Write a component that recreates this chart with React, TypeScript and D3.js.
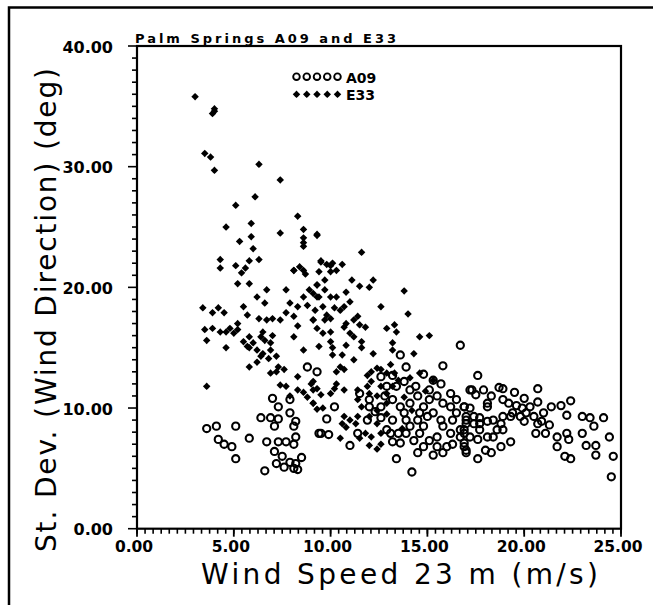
import * as d3 from "d3";

// Palm Springs, scatter of wind direction standard deviation vs wind speed
const title = "Palm Springs A09 and E33";
const xTitle = "Wind  Speed  23  m  (m/s)";
const yTitle = "St.  Dev.  (Wind  Direction)  (deg)";
const xTicks = [0, 5, 10, 15, 20, 25];
const yTicks = [0, 10, 20, 30, 40];
const seriesNames = ["A09", "E33"];

// E33 points: [wind speed, st. dev.]
const e33 = [
  [3.0, 35.8], [4.0, 34.8], [3.9, 34.4], [4.0, 34.6], [3.5, 31.1], [3.8, 30.8], [4.0, 29.7],
  [6.3, 30.2], [7.4, 28.9], [6.1, 27.5], [5.1, 26.8], [8.3, 25.9], [4.6, 25.0], [5.9, 25.3],
  [7.4, 24.5], [8.6, 24.8], [8.6, 24.1], [8.6, 23.7], [8.6, 23.4], [9.3, 24.4], [5.3, 23.8],
  [5.9, 24.2], [6.0, 23.2], [11.6, 22.9], [4.3, 22.3], [4.3, 21.6], [5.1, 21.8],
  [5.6, 21.6], [5.8, 22.2], [6.3, 22.3], [8.1, 21.4], [8.4, 21.7], [8.7, 21.1], [9.5, 22.2],
  [10.0, 21.8],
  [3.6, 11.8], [3.4, 18.3], [3.9, 17.9], [4.2, 18.3], [4.5, 17.9], [3.5, 16.5], [3.6, 15.6],
  [3.9, 16.6], [4.3, 16.3], [4.6, 16.3], [4.8, 16.6], [5.2, 17.0], [5.2, 16.5], [5.0, 16.2],
  [4.6, 15.0], [5.5, 18.4], [5.7, 17.7], [5.4, 21.2], [5.2, 20.3], [5.8, 20.3], [6.2, 19.2],
  [6.7, 19.8], [6.6, 18.7], [6.3, 17.4], [6.7, 17.3], [6.5, 16.3], [5.8, 15.9], [5.5, 15.5],
  [5.7, 15.1], [5.8, 15.0], [6.0, 15.4], [6.2, 14.8], [6.4, 14.3], [6.5, 14.5], [6.2, 13.8],
  [5.8, 13.4], [6.9, 14.8], [7.2, 14.3], [7.3, 13.4], [6.9, 15.4], [7.0, 17.4], [7.4, 17.3],
  [7.7, 17.9], [8.1, 17.6], [8.1, 15.9], [8.6, 14.8], [8.3, 16.8], [7.7, 19.8], [7.9, 18.7],
  [8.3, 18.4], [8.6, 19.2], [8.8, 18.5], [8.9, 19.8], [9.1, 17.3], [8.1, 21.4], [8.6, 21.4],
  [9.3, 20.2], [9.3, 19.2], [6.9, 12.9], [7.2, 13.0], [7.6, 13.2], [7.4, 11.9], [7.7, 11.8],
  [8.3, 12.6], [8.3, 11.5], [8.6, 11.3], [8.8, 10.9], [9.1, 11.5], [9.1, 10.4], [9.3, 9.9],
  [9.0, 12.0], [7.9, 11.0], [6.6, 15.6], [6.8, 14.1], [7.0, 16.0], [6.4, 15.9],
  [9.3, 24.3], [9.5, 22.1], [9.8, 21.9], [10.1, 22.0], [10.6, 21.9], [9.4, 21.3], [10.0, 21.3],
  [10.3, 21.4], [9.7, 20.6], [11.1, 20.6], [11.5, 20.1], [12.2, 20.6], [12.0, 20.0], [13.8, 19.7],
  [9.3, 20.2], [9.1, 19.5], [9.4, 19.2], [9.7, 19.8], [10.0, 19.2], [10.3, 19.2], [10.8, 19.6],
  [11.0, 18.8], [10.7, 18.4], [10.5, 18.1], [10.2, 18.3], [9.6, 18.4], [9.2, 18.1], [12.6, 18.4],
  [14.0, 17.8], [9.8, 17.7], [10.0, 17.4], [9.7, 17.3], [9.1, 17.3], [11.4, 17.6], [11.2, 17.3],
  [10.8, 17.0], [11.5, 16.9], [10.7, 16.7], [11.8, 16.7], [12.9, 16.6], [13.3, 16.9], [13.4, 16.3],
  [14.6, 15.9], [15.1, 16.0], [9.3, 16.6], [9.6, 16.2], [10.0, 16.3], [11.0, 16.2], [11.2, 15.9],
  [11.6, 15.5], [10.0, 15.5], [9.4, 15.1], [10.1, 15.0], [10.8, 15.2], [11.6, 15.0], [12.2, 14.5],
  [13.2, 15.4], [13.2, 14.8], [14.3, 14.5], [10.1, 14.4], [10.6, 14.4], [11.2, 14.0], [10.5, 13.4],
  [10.7, 13.2], [10.3, 13.0], [11.9, 12.7], [12.1, 13.0], [12.4, 13.3], [12.6, 13.2], [13.1, 13.6],
  [12.9, 12.9], [12.1, 12.2], [11.9, 11.8], [11.4, 11.5], [12.0, 11.2], [12.4, 11.0], [10.3, 12.0],
  [10.2, 11.6], [10.7, 11.5], [10.0, 11.2], [9.1, 12.2], [9.3, 11.6], [9.5, 11.1], [9.1, 10.4],
  [9.6, 10.0], [11.4, 10.7], [11.6, 10.1], [11.4, 9.3], [11.3, 8.7], [10.7, 9.3], [10.6, 8.7],
  [10.8, 8.4], [11.0, 9.0], [10.5, 7.5], [11.5, 7.5], [11.8, 7.9], [12.1, 7.6], [12.4, 6.6],
  [12.6, 7.0], [12.0, 6.9], [12.6, 7.9], [12.4, 8.7], [12.0, 9.3], [12.4, 9.8], [12.9, 9.5],
  [12.9, 10.4], [12.9, 11.2], [12.6, 11.8], [13.2, 11.8], [13.5, 12.3], [13.3, 12.9], [14.1, 12.5],
  [14.6, 12.9], [15.3, 12.3], [13.8, 10.9], [14.2, 9.8], [13.7, 8.3], [14.9, 11.4],
];

// A09 points: [wind speed, st. dev.]
const a09 = [
  [3.6, 8.3], [4.1, 8.5], [5.1, 8.5], [4.2, 7.4], [4.5, 7.0], [4.9, 6.8], [5.1, 5.8], [5.8, 7.5],
  [6.4, 9.2], [6.9, 9.2], [7.3, 9.1], [7.0, 10.8], [7.3, 10.1], [7.1, 8.5], [7.9, 9.6], [6.7, 7.2],
  [7.3, 7.2], [6.6, 4.8], [7.1, 6.4], [7.5, 6.0], [7.6, 5.1], [7.9, 5.5], [8.1, 5.0], [8.2, 5.4],
  [8.3, 4.9], [8.1, 8.5], [8.2, 7.6], [8.1, 7.0], [7.7, 7.2], [8.8, 13.4], [9.3, 13.0], [9.4, 7.9],
  [7.9, 10.7], [8.2, 8.9], [8.5, 5.9], [7.2, 5.4],
  [16.7, 15.2], [15.8, 13.5], [13.6, 14.4], [13.9, 13.4], [14.8, 12.8], [15.3, 12.3], [15.7, 12.0],
  [14.4, 11.8], [13.2, 12.7], [12.6, 12.6], [9.8, 9.1], [10.2, 10.1], [9.5, 7.9], [9.9, 7.8],
  [13.4, 5.8], [14.2, 4.7], [12.0, 10.7], [12.3, 9.7], [12.6, 9.2], [12.9, 8.2], [13.2, 7.2],
  [13.6, 7.1], [13.5, 7.9], [13.2, 9.0], [13.8, 9.6], [14.1, 10.4], [14.5, 11.0], [14.8, 10.1],
  [15.1, 10.7], [15.5, 11.0], [15.8, 10.4], [16.2, 10.1], [16.5, 9.6], [16.9, 10.1], [17.0, 9.0],
  [16.7, 8.2], [16.2, 7.9], [15.8, 8.5], [15.5, 7.6], [15.1, 7.3], [14.8, 6.8], [14.5, 6.3],
  [15.3, 6.1], [15.8, 6.3], [16.0, 6.8], [16.9, 6.8], [14.1, 8.5], [14.5, 9.0], [14.8, 8.5],
  [13.9, 7.9], [13.2, 10.7], [12.8, 11.0], [13.4, 11.8], [13.8, 12.2], [17.2, 11.5],
  [12.0, 10.1], [11.9, 9.0], [12.6, 10.1], [13.1, 7.9], [14.3, 7.3], [14.6, 7.9], [15.0, 9.3],
  [15.3, 9.6], [15.7, 9.0], [16.3, 9.0], [16.5, 10.7], [16.2, 11.2], [15.1, 11.5], [14.1, 11.5],
  [13.6, 10.1], [13.9, 9.0], [14.6, 9.6], [15.5, 6.8], [16.3, 7.0], [16.9, 7.9], [17.0, 6.3],
  [12.9, 11.8], [11.5, 11.2], [11.4, 7.9], [11.0, 6.9],
  [17.6, 12.7], [17.3, 11.5], [17.9, 11.5], [17.5, 11.1], [18.3, 11.0], [18.7, 11.7], [18.9, 11.6],
  [19.5, 11.3], [20.7, 11.6], [18.9, 10.7], [19.2, 10.4], [20.0, 10.8], [20.7, 10.5], [21.4, 10.1],
  [21.9, 10.2], [22.4, 10.6], [22.2, 9.4], [23.0, 9.3], [23.4, 9.2], [24.1, 9.2], [23.6, 8.5],
  [21.0, 9.6], [20.5, 9.3], [20.1, 9.6], [19.4, 9.6], [19.8, 9.3], [20.0, 8.9], [20.7, 8.7],
  [21.3, 8.6], [20.6, 7.9], [21.1, 7.9], [21.7, 7.6], [21.7, 6.8], [22.2, 7.9], [22.3, 7.4],
  [22.1, 6.0], [22.4, 5.8], [23.0, 7.9], [23.2, 6.9], [23.7, 6.9], [23.7, 6.1], [24.4, 7.6],
  [24.6, 6.0], [24.5, 4.3], [19.3, 7.2], [18.8, 6.8], [18.3, 6.3], [17.6, 5.8], [17.0, 6.5],
  [16.9, 7.1], [16.7, 7.6], [16.9, 8.2], [17.2, 7.6], [17.6, 7.4], [17.7, 8.2], [18.1, 7.6],
  [18.0, 6.5], [18.4, 7.6], [18.6, 8.2], [18.9, 8.2], [18.8, 8.7], [18.4, 9.0], [18.1, 8.9],
  [17.7, 9.2], [17.4, 9.3], [17.0, 9.3], [16.9, 10.1], [17.2, 10.0], [18.1, 10.1], [18.1, 10.4],
  [17.0, 8.7], [17.4, 8.7], [17.7, 8.7], [18.9, 9.3], [19.3, 9.3], [19.6, 10.2], [19.9, 10.0],
  [20.3, 10.1], [20.9, 8.9],
];

const X0 = 137, X1 = 621, Y0 = 528.7, Y1 = 46;

// chunky four-pointed marker used for E33
const starType = {
  draw(ctx: any, size: number) {
    const r = Math.sqrt(size) / 2;
    const w = r * 0.5;
    ctx.moveTo(0, -r);
    ctx.lineTo(w, -w);
    ctx.lineTo(r, 0);
    ctx.lineTo(w, w);
    ctx.lineTo(0, r);
    ctx.lineTo(-w, w);
    ctx.lineTo(-r, 0);
    ctx.lineTo(-w, -w);
    ctx.closePath();
  },
};

export default function App() {
  const x = d3.scaleLinear().domain([0, 25]).range([X0, X1]);
  const y = d3.scaleLinear().domain([0, 40]).range([Y0, Y1]);
  const star = d3.symbol().type(starType as any).size(56)() as string;
  const fmt = d3.format(".2f");

  const xMinor = d3.range(0, 25.001, 5 / 12);
  const yMinor = d3.range(0, 40.001, 1);
  const font = "'DejaVu Sans', sans-serif";

  return (
    <svg
      width={653}
      height={605}
      style={{ position: "absolute", left: 0, top: 0, background: "#fff" }}
    >
      <rect x={9} y={7.5} width={700} height={700} fill="none" stroke="#000" strokeWidth={2.5} />

      {/* title */}
      <text x={135} y={43.3} fontFamily={font} fontWeight="bold" fontSize={13}
        textLength={261} lengthAdjust="spacing">{title}</text>

      {/* ticks */}
      {xMinor.map((v, i) => (
        <line key={"xm" + i} x1={x(v)} x2={x(v)} y1={Y0} y2={Y0 + 5} stroke="#000" strokeWidth={1.6} />
      ))}
      {yMinor.map((v, i) => (
        <line key={"ym" + i} x1={X0 - (v % 10 === 0 ? 9 : 5)} x2={X0} y1={y(v)} y2={y(v)} stroke="#000" strokeWidth={1.6} />
      ))}
      {xTicks.map((v) => (
        <g key={"xt" + v}>
          <line x1={x(v)} x2={x(v)} y1={Y0} y2={Y0 + 8} stroke="#000" strokeWidth={1.8} />
          <text x={x(v) - 3} y={552} textAnchor="middle" fontFamily={font} fontWeight="bold" fontSize={15.5}>{fmt(v)}</text>
        </g>
      ))}
      {yTicks.map((v) => (
        <text key={"yt" + v} x={113} y={y(v) + 6.5} textAnchor="end" fontFamily={font} fontWeight="bold" fontSize={16}>{fmt(v)}</text>
      ))}

      {/* plot frame */}
      <rect x={X0} y={Y1} width={X1 - X0} height={Y0 - Y1} fill="none" stroke="#000" strokeWidth={2.2} />

      {/* axis titles */}
      <text x={201} y={584} fontFamily={font} fontSize={28} textLength={397} lengthAdjust="spacing">{xTitle}</text>
      <text transform="translate(56,552) rotate(-90)" fontFamily={font} fontSize={28}
        textLength={484} lengthAdjust="spacing">{yTitle}</text>

      {/* data */}
      {a09.map((d, i) => (
        <circle key={"a" + i} cx={x(d[0])} cy={y(d[1])} r={3.6} fill="none" stroke="#000" strokeWidth={2.1} />
      ))}
      {e33.map((d, i) => (
        <path key={"e" + i} d={star} transform={`translate(${x(d[0])},${y(d[1])})`} fill="#000" />
      ))}

      {/* legend */}
      {d3.range(5).map((i) => (
        <circle key={"lc" + i} cx={296.5 + i * 10.25} cy={76.7} r={3.3} fill="none" stroke="#000" strokeWidth={1.9} />
      ))}
      {d3.range(5).map((i) => (
        <path key={"ls" + i} d={star} transform={`translate(${296.5 + i * 10.25},94.3)`} fill="#000" />
      ))}
      <text x={346} y={82.5} fontFamily={font} fontWeight="bold" fontSize={14}>{seriesNames[0]}</text>
      <text x={346} y={100} fontFamily={font} fontWeight="bold" fontSize={14}>{seriesNames[1]}</text>
    </svg>
  );
}
